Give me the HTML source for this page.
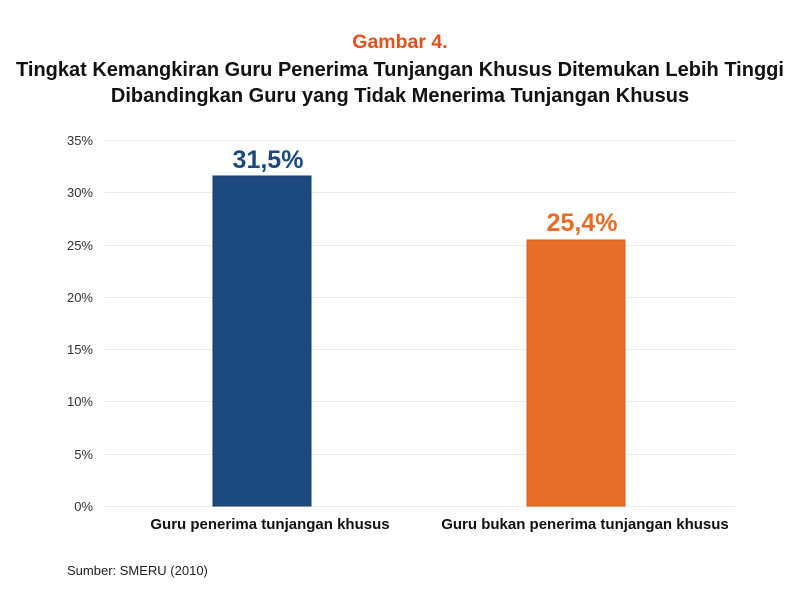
<!DOCTYPE html>
<html><head><meta charset="utf-8"><style>
body{margin:0;background:#fff;width:800px;height:600px;overflow:hidden;font-family:"Liberation Sans",sans-serif;}
</style></head><body>
<svg width="800" height="600" xmlns="http://www.w3.org/2000/svg" font-family="Liberation Sans, sans-serif">
<text x="400" y="48" text-anchor="middle" font-size="19.5" font-weight="bold" fill="#e8501c">Gambar 4.</text>
<text x="400" y="76" text-anchor="middle" font-size="20" font-weight="bold" fill="#111">Tingkat Kemangkiran Guru Penerima Tunjangan Khusus Ditemukan Lebih Tinggi</text>
<text x="400" y="102" text-anchor="middle" font-size="20" font-weight="bold" fill="#111">Dibandingkan Guru yang Tidak Menerima Tunjangan Khusus</text>
<g stroke="#ebebeb" stroke-width="1">
<line x1="105" x2="735" y1="140.5" y2="140.5"/>
<line x1="105" x2="735" y1="192.5" y2="192.5"/>
<line x1="105" x2="735" y1="245.5" y2="245.5"/>
<line x1="105" x2="735" y1="297.5" y2="297.5"/>
<line x1="105" x2="735" y1="349.5" y2="349.5"/>
<line x1="105" x2="735" y1="401.5" y2="401.5"/>
<line x1="105" x2="735" y1="454.5" y2="454.5"/>
<line x1="105" x2="735" y1="506.5" y2="506.5"/>
</g>
<g font-size="13" fill="#333" text-anchor="end">
<text x="93" y="145">35%</text>
<text x="93" y="197">30%</text>
<text x="93" y="250">25%</text>
<text x="93" y="302">20%</text>
<text x="93" y="354">15%</text>
<text x="93" y="406">10%</text>
<text x="93" y="459">5%</text>
<text x="93" y="511">0%</text>
</g>
<rect x="213" y="176" width="98" height="330" fill="#1c4a7e" stroke="#163e6c"/>
<rect x="527" y="240" width="98" height="266" fill="#e76e26" stroke="#d9621c"/>
<text x="268" y="168" text-anchor="middle" font-size="25" font-weight="bold" fill="#1c4a7e">31,5%</text>
<text x="582" y="231" text-anchor="middle" font-size="25" font-weight="bold" fill="#e76e26">25,4%</text>
<text x="270" y="529" text-anchor="middle" font-size="15" font-weight="bold" fill="#111">Guru penerima tunjangan khusus</text>
<text x="585" y="529" text-anchor="middle" font-size="15" font-weight="bold" fill="#111">Guru bukan penerima tunjangan khusus</text>
<text x="67" y="575" font-size="13" fill="#222">Sumber: SMERU (2010)</text>
</svg>
</body></html>
